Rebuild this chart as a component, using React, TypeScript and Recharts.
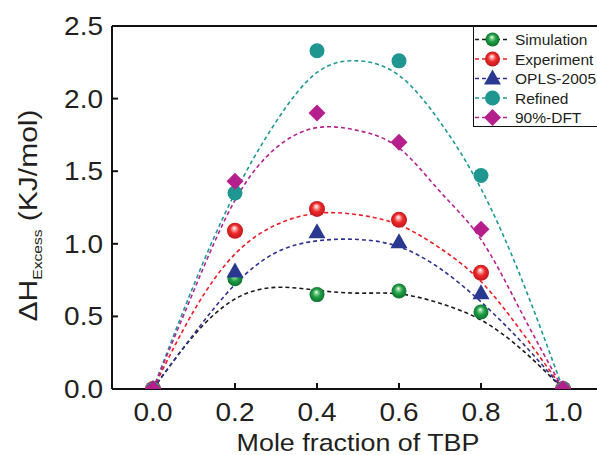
import React from "react";
import { ComposedChart, Line, Scatter, XAxis, YAxis, ReferenceLine } from "recharts";

// fitted curves, read every 0.1
const fitX = [0, 0.1, 0.2, 0.3, 0.4, 0.5, 0.6, 0.7, 0.8, 0.9, 1.0];
const simFit = [0, 0.37, 0.62, 0.7, 0.68, 0.66, 0.655, 0.59, 0.475, 0.27, 0];
const expFit = [0, 0.54, 0.93, 1.13, 1.21, 1.2, 1.13, 0.97, 0.74, 0.39, 0];
const oplsFit = [0, 0.38, 0.72, 0.94, 1.02, 1.03, 0.98, 0.83, 0.6, 0.32, 0];
const refFit = [0, 0.72, 1.35, 1.84, 2.18, 2.26, 2.16, 1.84, 1.38, 0.75, 0];
const dftFit = [0, 0.68, 1.3, 1.66, 1.8, 1.78, 1.66, 1.36, 1.03, 0.52, 0];

// measured points
const pointX = [0, 0.2, 0.4, 0.6, 0.8, 1.0];
const simPts = [0, 0.76, 0.65, 0.675, 0.53, 0];
const expPts = [0, 1.09, 1.24, 1.165, 0.8, 0];
const oplsPts = [0, 0.81, 1.08, 1.01, 0.66, 0];
const refPts = [0, 1.35, 2.33, 2.26, 1.47, 0];
const dftPts = [0, 1.43, 1.9, 1.7, 1.1, 0];

const xTicks = [0, 0.2, 0.4, 0.6, 0.8, 1.0];
const yTicks = [0, 0.5, 1.0, 1.5, 2.0, 2.5];

const toRows = (xs: number[], ys: number[]) => xs.map((x, i) => ({ x, y: ys[i] }));

const FONT = "'Liberation Sans', Arial, sans-serif";
const INK = "#231f20";

const Sphere = ({ cx, cy, r, id }: any) => <circle cx={cx} cy={cy} r={r} fill={`url(#${id})`} />;
const Tri = ({ cx, cy }: any) => (
  <path d={`M${cx},${cy - 9} L${cx + 8.5},${cy + 6} L${cx - 8.5},${cy + 6} Z`} fill="#2b388f" />
);
const Dot = ({ cx, cy }: any) => <circle cx={cx} cy={cy} r={7.5} fill="#1f968f" />;
const Diamond = ({ cx, cy }: any) => (
  <path d={`M${cx},${cy - 8.5} L${cx + 8.5},${cy} L${cx},${cy + 8.5} L${cx - 8.5},${cy} Z`} fill="#b51f8c" />
);

const series = [
  { name: "Simulation", fit: simFit, pts: simPts, line: "#1a1a1a", shape: (p: any) => <Sphere {...p} r={7.5} id="gGreen" /> },
  { name: "Experiment", fit: expFit, pts: expPts, line: "#ee1c25", shape: (p: any) => <Sphere {...p} r={8} id="gRed" /> },
  { name: "OPLS-2005", fit: oplsFit, pts: oplsPts, line: "#2e3192", shape: (p: any) => <Tri {...p} /> },
  { name: "Refined", fit: refFit, pts: refPts, line: "#1c9993", shape: (p: any) => <Dot {...p} /> },
  { name: "90%-DFT", fit: dftFit, pts: dftPts, line: "#b5218f", shape: (p: any) => <Diamond {...p} /> },
];

const Grads = ({ suffix = "" }: { suffix?: string }) => (
  <defs>
    <radialGradient id={`gGreen${suffix}`} cx="50%" cy="50%" r="55%" fx="45%" fy="32%">
      <stop offset="0" stopColor="#ffffff" />
      <stop offset="0.22" stopColor="#7fd08f" />
      <stop offset="0.5" stopColor="#1f9d45" />
      <stop offset="1" stopColor="#0b6b2a" />
    </radialGradient>
    <radialGradient id={`gRed${suffix}`} cx="50%" cy="50%" r="55%" fx="45%" fy="32%">
      <stop offset="0" stopColor="#ffffff" />
      <stop offset="0.22" stopColor="#f7a0a0" />
      <stop offset="0.5" stopColor="#ee2a2a" />
      <stop offset="1" stopColor="#b8141b" />
    </radialGradient>
  </defs>
);

const XTick = ({ x, y, payload }: any) => (
  <text transform={`translate(${x},${y}) scale(1.12,1)`} textAnchor="middle" dy={18}
    fontSize={25} fontFamily={FONT} fill={INK}>
    {Number(payload.value).toFixed(1)}
  </text>
);

const YTick = ({ x, y, payload }: any) => (
  <text transform={`translate(${x},${y}) scale(1.12,1)`} textAnchor="end" dy={9}
    fontSize={25} fontFamily={FONT} fill={INK}>
    {Number(payload.value).toFixed(1)}
  </text>
);

const YLabel = ({ viewBox }: any) => {
  const cy = viewBox.y + viewBox.height / 2 + 8;
  return (
    <text transform={`translate(37,${cy}) rotate(-90) scale(1.2,1)`} textAnchor="middle"
      fontSize={25} fontFamily={FONT} fill={INK}>
      ΔH<tspan fontSize={13} dy={5}>Excess</tspan>
      <tspan dy={-5}> (KJ/mol)</tspan>
    </text>
  );
};

const XLabel = ({ viewBox }: any) => {
  const cx = viewBox.x + viewBox.width / 2;
  return (
    <text transform={`translate(${cx},451) scale(1.12,1)`} textAnchor="middle"
      fontSize={24} fontFamily={FONT} fill={INK}>
      Mole fraction of TBP
    </text>
  );
};

const LegendBox = () => (
  <div style={{ position: "absolute", left: 473, top: 26, width: 140, height: 101,
    border: "1.5px solid #111", boxSizing: "border-box", background: "#fff" }}>
    <svg width={140} height={100} style={{ display: "block" }}>
      <Grads suffix="L" />
      {series.map((s, i) => {
        const cy = 12.5 + i * 19.5;
        const p = { cx: 18.5, cy };
        return (
          <g key={s.name}>
            <line x1={1} x2={34} y1={cy} y2={cy} stroke={s.line} strokeWidth={1.6} strokeDasharray="4 3" />
            {i === 0 && <Sphere {...p} r={7} id="gGreenL" />}
            {i === 1 && <Sphere {...p} r={7.5} id="gRedL" />}
            {i === 2 && <Tri {...p} />}
            {i === 3 && <Dot {...p} />}
            {i === 4 && <Diamond {...p} />}
            <text x={41} y={cy + 5.5} fontSize={15.5} fontFamily={FONT} fill={INK}>{s.name}</text>
          </g>
        );
      })}
    </svg>
  </div>
);

export default function App() {
  return (
    <div style={{ position: "fixed", left: 0, top: 0, width: 597, height: 455, overflow: "hidden", background: "#fff" }}>
      <ComposedChart width={620} height={455} margin={{ top: 26, right: 16, bottom: 0, left: 0 }}>
        <Grads />
        <XAxis type="number" dataKey="x" domain={[-0.1, 1.1]} ticks={xTicks} height={66}
          axisLine={{ stroke: "#111", strokeWidth: 2 }} tickLine={{ stroke: "#111", strokeWidth: 2 }}
          tickSize={-6} tickMargin={20} tick={<XTick />} label={<XLabel />} />
        <YAxis type="number" dataKey="y" domain={[0, 2.5]} ticks={yTicks} width={112} allowDataOverflow
          axisLine={{ stroke: "#111", strokeWidth: 2 }} tickLine={{ stroke: "#111", strokeWidth: 2 }}
          tickSize={-6} tickMargin={15} tick={<YTick />} label={<YLabel />} />
        <ReferenceLine y={2.5} stroke="#111" strokeWidth={2} />
        {series.map((s) => (
          <Line key={`f-${s.name}`} data={toRows(fitX, s.fit)} dataKey="y" type="natural"
            stroke={s.line} strokeWidth={1.6} strokeDasharray="4 3" dot={false} activeDot={false}
            isAnimationActive={false} />
        ))}
        {series.map((s) => (
          <Scatter key={`p-${s.name}`} data={toRows(pointX, s.pts)} dataKey="y" shape={s.shape}
            isAnimationActive={false} />
        ))}
      </ComposedChart>
      <LegendBox />
    </div>
  );
}
